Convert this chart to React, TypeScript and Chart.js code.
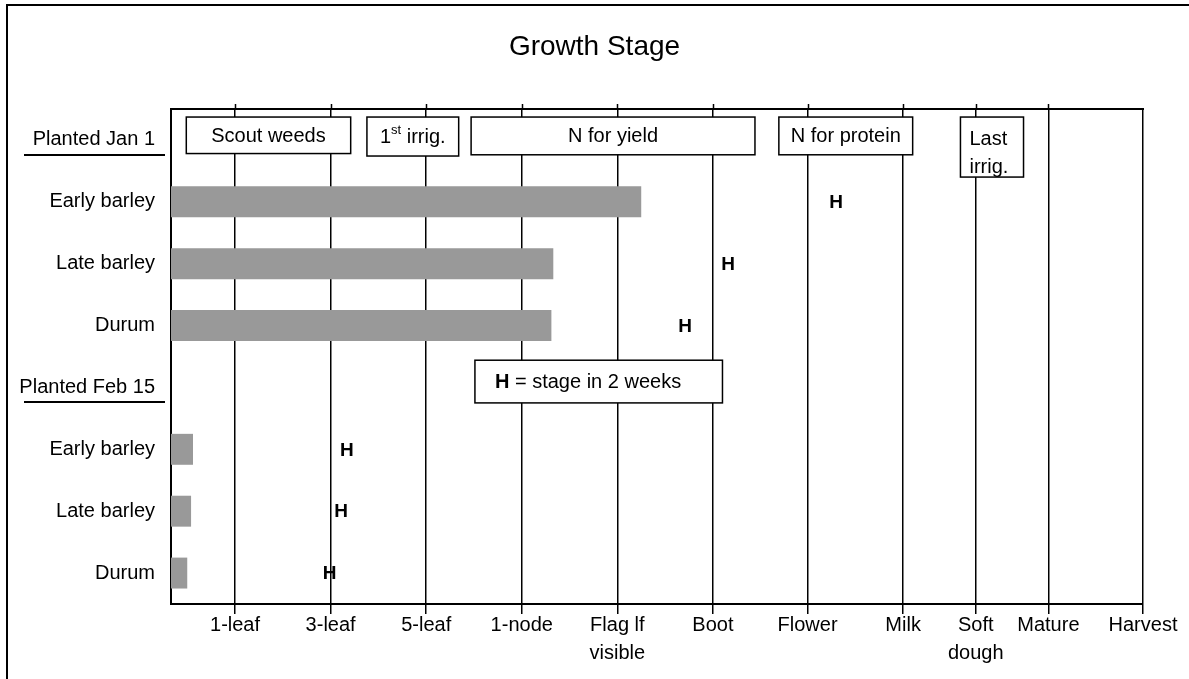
import React, { useEffect, useRef } from "react";
import { Chart, registerables } from "chart.js";

Chart.register(...registerables);

const FONT = '"Liberation Sans", Arial, Helvetica, sans-serif';

// Rows of the chart (y categories)
const rowLabels = [
  "Planted Jan 1",
  "Early barley",
  "Late barley",
  "Durum",
  "Planted Feb 15",
  "Early barley",
  "Late barley",
  "Durum",
];
const headerRows = [0, 4];

// Current growth stage (bar length) and stage in 2 weeks (H marker)
const currentStage = [null, 4.92, 4.0, 3.98, null, 0.23, 0.21, 0.17];
const stageInTwoWeeks = [null, 6.96, 5.83, 5.38, null, 1.84, 1.78, 1.66];

// Growth stage axis
const stageLabels: (string | string[])[] = [
  "1-leaf",
  "3-leaf",
  "5-leaf",
  "1-node",
  ["Flag lf", "visible"],
  "Boot",
  "Flower",
  "Milk",
  ["Soft", "dough"],
  "Mature",
  "Harvest",
];
const stagePositions = [0.67, 1.67, 2.67, 3.67, 4.67, 5.67, 6.66, 7.66, 8.42, 9.18, 10.17];
const stageMin = 0;
const stageMax = 10.17;

// Management activities (boxes along the top), in stage units / row units
const activityLines = [
  ["Scout weeds"],
  ["1^st irrig."],
  ["N for yield"],
  ["N for protein"],
  ["Last", "irrig."],
];
const activityAlign = ["center", "center", "center", "center", "left"];
const activityStart = [0.16, 2.05, 3.14, 6.36, 8.26];
const activityEnd = [1.88, 3.01, 6.11, 7.76, 8.92];
const activityTop = [-0.37, -0.37, -0.37, -0.37, -0.37];
const activityBottom = [0.22, 0.26, 0.24, 0.24, 0.6];

// Key box
const keyBox = { x0: 3.18, x1: 5.77, y0: 3.56, y1: 4.25 };
const keyBold = "H";
const keyText = " = stage in 2 weeks";

function drawRich(ctx: CanvasRenderingContext2D, text: string, x: number, y: number, align: string) {
  // supports "^xx" superscript segment terminated by a space
  const segs: { t: string; sup: boolean }[] = [];
  const m = text.match(/^(.*?)\^(\S+)(.*)$/);
  if (m) {
    segs.push({ t: m[1], sup: false }, { t: m[2], sup: true }, { t: m[3], sup: false });
  } else segs.push({ t: text, sup: false });
  const norm = `20px ${FONT}`;
  const small = `13px ${FONT}`;
  let total = 0;
  for (const s of segs) {
    ctx.font = s.sup ? small : norm;
    total += ctx.measureText(s.t).width;
  }
  let cx = align === "center" ? x - total / 2 : x;
  ctx.textAlign = "left";
  ctx.textBaseline = "middle";
  for (const s of segs) {
    ctx.font = s.sup ? small : norm;
    ctx.fillText(s.t, cx, s.sup ? y - 7 : y);
    cx += ctx.measureText(s.t).width;
  }
}

const decorPlugin = {
  id: "decor",
  afterDraw(chart: any) {
    const { ctx, chartArea: a } = chart;
    const x = chart.scales.x;
    const y = chart.scales.y;
    ctx.save();
    ctx.strokeStyle = "#000";
    ctx.fillStyle = "#000";

    // top border of plot
    ctx.lineWidth = 2;
    ctx.beginPath();
    ctx.moveTo(a.left - 1, a.top);
    ctx.lineTo(a.right + 1, a.top);
    ctx.stroke();

    // small tick marks above the plot
    ctx.lineWidth = 1.5;
    stagePositions.slice(0, -1).forEach((v) => {
      const px = Math.round(x.getPixelForValue(v)) + 0.5;
      ctx.beginPath();
      ctx.moveTo(px, a.top - 5);
      ctx.lineTo(px, a.top);
      ctx.stroke();
    });

    // H markers (stage in 2 weeks)
    const meta = chart.getDatasetMeta(1);
    ctx.font = `bold 19px ${FONT}`;
    ctx.textAlign = "center";
    ctx.textBaseline = "middle";
    meta.data.forEach((pt: any, i: number) => {
      if (stageInTwoWeeks[i] == null) return;
      ctx.fillText("H", pt.x, pt.y + 1);
    });

    // activity boxes
    activityLines.forEach((lines, i) => {
      const x0 = x.getPixelForValue(activityStart[i]);
      const x1 = x.getPixelForValue(activityEnd[i]);
      const y0 = y.getPixelForValue(activityTop[i]);
      const y1 = y.getPixelForValue(activityBottom[i]);
      ctx.fillStyle = "#fff";
      ctx.fillRect(x0, y0, x1 - x0, y1 - y0);
      ctx.lineWidth = 1.5;
      ctx.strokeRect(x0, y0, x1 - x0, y1 - y0);
      ctx.fillStyle = "#000";
      if (lines.length === 1) {
        drawRich(ctx, lines[0], (x0 + x1) / 2, (y0 + y1) / 2 + 1, activityAlign[i]);
      } else {
        lines.forEach((ln, k) => {
          drawRich(ctx, ln, x0 + 9, y0 + 22 + k * 28, activityAlign[i]);
        });
      }
    });

    // key box
    {
      const x0 = x.getPixelForValue(keyBox.x0);
      const x1 = x.getPixelForValue(keyBox.x1);
      const y0 = y.getPixelForValue(keyBox.y0);
      const y1 = y.getPixelForValue(keyBox.y1);
      ctx.fillStyle = "#fff";
      ctx.fillRect(x0, y0, x1 - x0, y1 - y0);
      ctx.lineWidth = 1.5;
      ctx.strokeRect(x0, y0, x1 - x0, y1 - y0);
      ctx.fillStyle = "#000";
      ctx.textAlign = "left";
      ctx.textBaseline = "middle";
      const ty = (y0 + y1) / 2 + 1;
      ctx.font = `bold 20px ${FONT}`;
      ctx.fillText(keyBold, x0 + 20, ty);
      const w = ctx.measureText(keyBold).width;
      ctx.font = `20px ${FONT}`;
      ctx.fillText(keyText, x0 + 20 + w, ty);
    }

    // underline the planting-date header rows
    ctx.lineWidth = 2;
    headerRows.forEach((r) => {
      const py = Math.round(y.getPixelForValue(r)) + 15;
      ctx.beginPath();
      ctx.moveTo(a.left - 147, py);
      ctx.lineTo(a.left - 6, py);
      ctx.stroke();
    });

    // outer frame
    ctx.lineWidth = 2;
    ctx.strokeRect(7, 5, 3000, 3000);
    ctx.restore();
  },
};

export default function App() {
  const ref = useRef<HTMLCanvasElement | null>(null);

  useEffect(() => {
    document.body.style.margin = "0";
    const canvas = ref.current;
    if (!canvas) return;
    const chart = new Chart(canvas, {
      type: "bar",
      data: {
        labels: rowLabels,
        datasets: [
          {
            type: "bar",
            label: "Current stage",
            data: currentStage as any,
            backgroundColor: "#999999",
            borderWidth: 0,
            barPercentage: 0.5,
            categoryPercentage: 1,
            indexAxis: "y",
          } as any,
          {
            type: "line",
            label: "Stage in 2 weeks",
            data: stageInTwoWeeks as any,
            showLine: false,
            pointRadius: 0,
            indexAxis: "y",
          } as any,
        ],
      },
      options: {
        indexAxis: "y",
        animation: false,
        responsive: false,
        events: [],
        layout: { padding: { left: 0, right: 0, top: 0, bottom: 0 } },
        plugins: {
          legend: { display: false },
          tooltip: { enabled: false },
          title: {
            display: true,
            text: "Growth Stage",
            color: "#000",
            font: { family: FONT, size: 28, weight: "normal", lineHeight: 1.2 },
            padding: { top: 30, bottom: 45.4 },
          },
        },
        scales: {
          x: {
            type: "linear",
            position: "bottom",
            min: stageMin,
            max: stageMax,
            afterBuildTicks: (s: any) => {
              s.ticks = stagePositions.map((v) => ({ value: v }));
            },
            afterFit: (s: any) => {
              s.height = 75;
            },
            ticks: {
              autoSkip: false,
              maxRotation: 0,
              color: "#000",
              padding: -3,
              font: { family: FONT, size: 20, lineHeight: 1.4 },
              callback: (_v: any, i: number) => stageLabels[i] as any,
            },
            grid: { color: "#000", lineWidth: 1.5, tickLength: 10, drawTicks: true },
            border: { color: "#000", width: 2 },
          },
          y: {
            type: "category",
            position: "left",
            afterFit: (s: any) => {
              s.width = 171;
            },
            ticks: {
              color: "#000",
              padding: 16,
              font: { family: FONT, size: 20 },
            },
            grid: { display: false, drawTicks: false },
            border: { display: true, color: "#000", width: 2 },
          },
          yRight: {
            type: "category",
            position: "right",
            afterFit: (s: any) => {
              s.width = 46;
            },
            ticks: { display: false },
            grid: { display: false, drawTicks: false },
            border: { display: false },
          },
        },
      },
      plugins: [decorPlugin],
    });
    return () => chart.destroy();
  }, []);

  return (
    <div style={{ width: 1189, height: 679, overflow: "hidden", background: "#fff" }}>
      <canvas ref={ref} width={1189} height={679} style={{ display: "block" }} />
    </div>
  );
}
